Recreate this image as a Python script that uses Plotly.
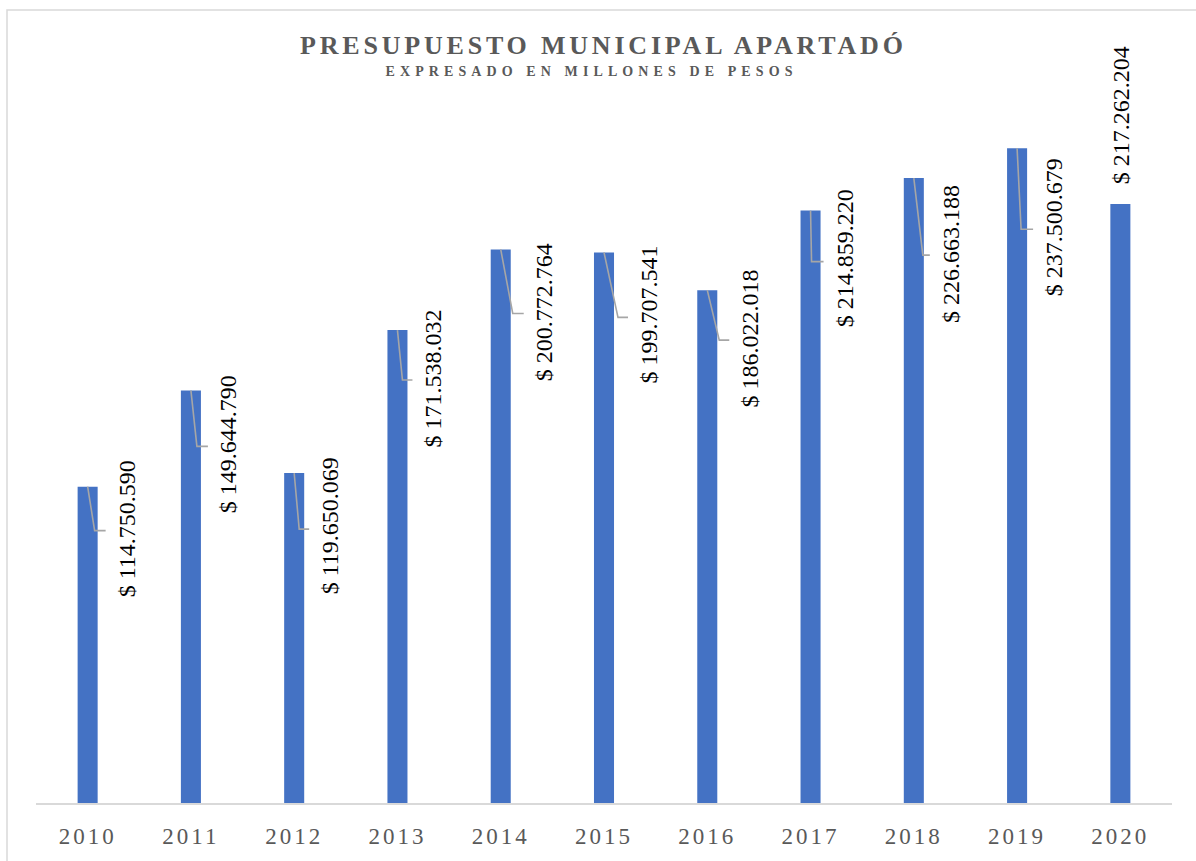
import plotly.graph_objects as go

# ---- data ----
years = [2010, 2011, 2012, 2013, 2014, 2015, 2016, 2017, 2018, 2019, 2020]
budget = [114750590, 149644790, 119650069, 171538032, 200772764, 199707541,
          186022018, 214859220, 226663188, 237500679, 217262204]
title_text = "PRESUPUESTO MUNICIPAL APARTADÓ"
subtitle_text = "EXPRESADO EN MILLONES DE PESOS"

# ---- label placement (pixels, style only) ----
lab_dx = [39, 38, 36, 36, 44, 45, 43, 34, 37, 37, 1]
lab_dy = [42, 54, 53, 48, 63, 62, 48, 48, 76, 79, -89]   # positive = downward
lead_x = [7, 6, 5, 5, 12, 14, 12, 1, 9, 4, None]
lead_y = [44, 56, 56, 50, 64, 65, 50, 51, 77, 81, None]

SERIF = "Liberation Serif, Times New Roman, serif"


def fmt(v):
    return "$ " + f"{v:,}".replace(",", ".")


W, H = 1196, 861
L, R, T, B = 36, 24, 20, 54
pw, ph = W - L - R, H - T - B

fig = go.Figure()
fig.add_trace(go.Bar(
    x=years, y=budget, width=0.194,
    marker=dict(color="#4472C4", line=dict(width=0)),
    hoverinfo="skip",
))

annotations = []
shapes = []
for i, (yr, v) in enumerate(zip(years, budget)):
    annotations.append(dict(
        x=yr, y=v, xref="x", yref="y", text=fmt(v), showarrow=False,
        textangle=-90, xanchor="center", yanchor="middle",
        xshift=lab_dx[i], yshift=-lab_dy[i],
        font=dict(family=SERIF, size=24, color="#000000"),
    ))
    if lead_x[i] is not None:
        hx = lab_dx[i] - 21
        shapes.append(dict(
            type="path", xref="x", yref="y",
            xsizemode="pixel", ysizemode="pixel", xanchor=yr, yanchor=v,
            path=f"M 0,0 L {lead_x[i]},{-lead_y[i]} L {hx},{-lead_y[i]}",
            line=dict(color="#A6A6A6", width=1.6), layer="above",
        ))

# chart border (only top & left visible in the frame)
shapes.append(dict(
    type="rect", xref="paper", yref="paper",
    x0=(7 - L) / pw, x1=1.2, y0=-0.3, y1=(H - B - 10) / ph,
    line=dict(color="#D9D9D9", width=1.5), fillcolor="rgba(0,0,0,0)", layer="below",
))

annotations.append(dict(
    x=(603.5 - L) / pw, y=(H - B - 46) / ph, xref="paper", yref="paper",
    text=f"<b>{title_text}</b>", showarrow=False, xanchor="center", yanchor="middle",
    font=dict(family=SERIF, size=26, color="#595959"),
))
annotations.append(dict(
    x=(591.5 - L) / pw, y=(H - B - 72) / ph, xref="paper", yref="paper",
    text=f"<b>{subtitle_text}</b>", showarrow=False, xanchor="center", yanchor="middle",
    font=dict(family=SERIF, size=14, color="#595959"),
))

fig.update_layout(
    width=W, height=H,
    margin=dict(l=L, r=R, t=T, b=B, pad=0),
    paper_bgcolor="white", plot_bgcolor="white",
    showlegend=False,
    annotations=annotations, shapes=shapes,
    xaxis=dict(
        type="linear", range=[years[0] - 0.5, years[-1] + 0.5],
        tickvals=years, ticktext=[str(y) for y in years],
        showgrid=False, zeroline=False, ticks="",
        showline=True, linecolor="#D9D9D9", linewidth=1.5,
        tickfont=dict(family=SERIF, size=23, color="#595959"),
        ticklabelstandoff=12,
    ),
    yaxis=dict(range=[0, 284e6], visible=False, showgrid=False, zeroline=False),
)

post = """
document.documentElement.style.margin = '0';
document.documentElement.style.overflow = 'hidden';
document.body.style.margin = '0';
document.body.style.overflow = 'hidden';
var st = document.createElement('style');
st.textContent = '.xtick text { letter-spacing: 3px; }';
document.head.appendChild(st);
document.querySelectorAll('.annotation-text').forEach(function(e){
  var t = e.textContent;
  if (t.indexOf('PRESUPUESTO') === 0) { e.style.letterSpacing = '3.8px'; }
  if (t.indexOf('EXPRESADO') === 0) { e.style.letterSpacing = '5.1px'; }
});
"""

fig.write_html("out.html", post_script=post, config={"displayModeBar": False})
